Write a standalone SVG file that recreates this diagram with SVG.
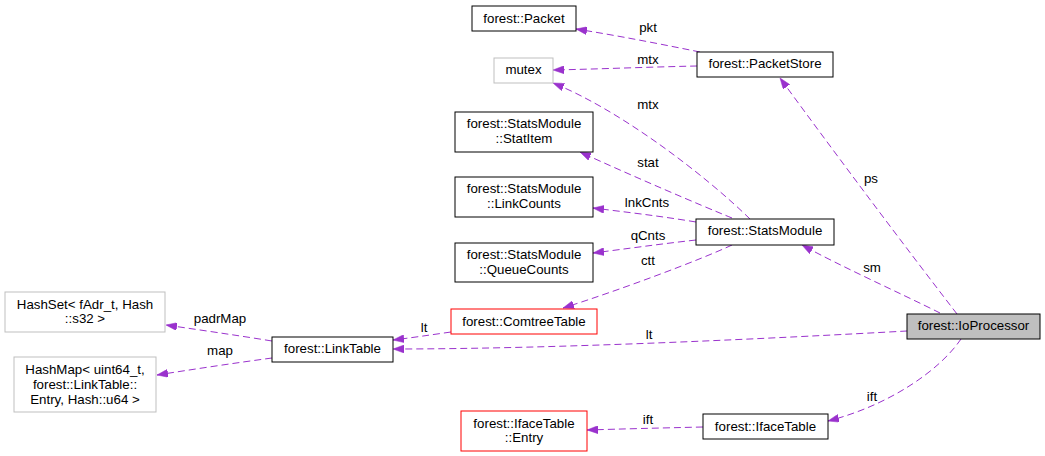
<svg xmlns="http://www.w3.org/2000/svg" width="1045" height="456" viewBox="0 0 1045 456">
<defs>
<style>
text{font-family:"Liberation Sans",Arial,sans-serif;font-size:13.3px;fill:#000;text-anchor:middle}
.n rect{fill:#fff;stroke:#000;stroke-width:1}
.g rect{stroke:#bfbfbf}
.r rect{stroke:#ff0000}
.cur rect{fill:#bfbfbf}
#edges path{fill:none;stroke:#9a32cd;stroke-width:1;stroke-dasharray:7,4;marker-end:url(#ah)}
</style>
<marker id="ah" markerUnits="userSpaceOnUse" markerWidth="11" markerHeight="8" refX="11" refY="4" orient="auto">
<path d="M0,0 L11,4 L0,8 z" fill="#9a32cd" stroke="#9a32cd" stroke-width="0.5"/>
</marker>
</defs>
<rect width="1045" height="456" fill="#fff"/>
<g id="edges">
<path d="M700,52 C660,44 620,36 576,29"/>
<path d="M697,66 C650,67 600,69 553,70"/>
<path d="M750,219 C705,175 620,110 553,83"/>
<path d="M732,218 C700,205 630,175 580,152"/>
<path d="M696,222 C660,216 625,212 593,208"/>
<path d="M696,240 C660,244 625,249 593,253"/>
<path d="M732,245 C700,260 620,290 563,308"/>
<path d="M451,332 C430,335 410,338 393,340"/>
<path d="M907,331 C780,338 560,349 393,349"/>
<path d="M940,313 C900,293 840,266 802,245"/>
<path d="M957,314 C900,240 840,160 780,78"/>
<path d="M961,339 C940,370 890,405 828,421"/>
<path d="M703,427 C660,428 620,429 587,430"/>
<path d="M272,341 C235,335 200,330 166,325"/>
<path d="M272,358 C235,363 195,369 157,375"/>
<text x="648" y="32">pkt</text>
<text x="648" y="64">mtx</text>
<text x="648" y="109">mtx</text>
<text x="648" y="167">stat</text>
<text x="647" y="207">lnkCnts</text>
<text x="648" y="240">qCnts</text>
<text x="648" y="265">ctt</text>
<text x="424" y="332">lt</text>
<text x="649" y="339">lt</text>
<text x="220" y="323">padrMap</text>
<text x="220" y="355">map</text>
<text x="871" y="183">ps</text>
<text x="872" y="272">sm</text>
<text x="872" y="401">ift</text>
<text x="648" y="424">ift</text>
</g>
<g id="n_packet" class="n"><rect x="472" y="6" width="104" height="25"/><text x="524" y="23">forest::Packet</text></g>
<g id="n_mutex" class="n g"><rect x="494" y="58" width="59" height="25"/><text x="523.5" y="74">mutex</text></g>
<g id="n_packetstore" class="n"><rect x="697" y="52" width="136" height="25"/><text x="765" y="68">forest::PacketStore</text></g>
<g id="n_statitem" class="n"><rect x="455" y="112" width="138" height="40"/><text x="524" y="128">forest::StatsModule</text><text x="524" y="143">::StatItem</text></g>
<g id="n_linkcounts" class="n"><rect x="455" y="177" width="138" height="40"/><text x="524" y="193">forest::StatsModule</text><text x="524" y="208">::LinkCounts</text></g>
<g id="n_queuecounts" class="n"><rect x="455" y="243" width="138" height="39"/><text x="524" y="259">forest::StatsModule</text><text x="524" y="274">::QueueCounts</text></g>
<g id="n_statsmodule" class="n"><rect x="696" y="219" width="138" height="26"/><text x="765" y="235">forest::StatsModule</text></g>
<g id="n_comtree" class="n r"><rect x="451" y="309" width="146" height="25"/><text x="524" y="326">forest::ComtreeTable</text></g>
<g id="n_linktable" class="n"><rect x="272" y="337" width="121" height="25"/><text x="332.5" y="353">forest::LinkTable</text></g>
<g id="n_hashset" class="n g"><rect x="5" y="292" width="160" height="40"/><text x="85" y="309">HashSet&lt; fAdr_t, Hash</text><text x="85" y="323">::s32 &gt;</text></g>
<g id="n_hashmap" class="n g"><rect x="14" y="357" width="142" height="55"/><text x="85" y="374">HashMap&lt; uint64_t,</text><text x="85" y="389">forest::LinkTable::</text><text x="85" y="404">Entry, Hash::u64 &gt;</text></g>
<g id="n_ioproc" class="n cur"><rect x="907" y="314" width="133" height="25"/><text x="973.5" y="330">forest::IoProcessor</text></g>
<g id="n_ifacetable" class="n"><rect x="703" y="414" width="125" height="25"/><text x="765.5" y="431">forest::IfaceTable</text></g>
<g id="n_ifaceentry" class="n r"><rect x="461" y="411" width="126" height="40"/><text x="524" y="428">forest::IfaceTable</text><text x="524" y="442">::Entry</text></g>
</svg>
